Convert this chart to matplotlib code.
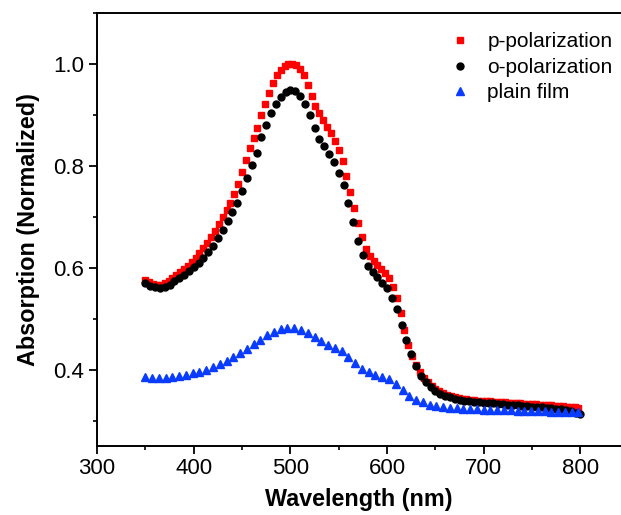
import numpy as np
import matplotlib
matplotlib.use("Agg")
import matplotlib.pyplot as plt
from matplotlib.ticker import MultipleLocator

plt.rcParams['font.family'] = ['Liberation Sans', 'DejaVu Sans']

# p-polarization (4 nm step)
wl_p = np.arange(350, 801, 4)
p_pol = [0.575, 0.571, 0.568, 0.566, 0.567, 0.570, 0.574, 0.579, 0.585, 0.592,
         0.598, 0.604, 0.611, 0.619, 0.628, 0.638, 0.649, 0.661, 0.673, 0.686,
         0.699, 0.713, 0.727, 0.745, 0.765, 0.787, 0.812, 0.835, 0.854, 0.875,
         0.900, 0.922, 0.943, 0.963, 0.978, 0.989, 0.996, 1.000, 1.000, 0.997,
         0.990, 0.978, 0.958, 0.937, 0.918, 0.903, 0.889, 0.876, 0.864, 0.849,
         0.832, 0.810, 0.780, 0.748, 0.718, 0.688, 0.660, 0.637, 0.622, 0.613,
         0.605, 0.598, 0.590, 0.579, 0.562, 0.540, 0.512, 0.478, 0.448, 0.426,
         0.409, 0.395, 0.384, 0.375, 0.368, 0.362, 0.358, 0.354, 0.351, 0.348,
         0.346, 0.344, 0.343, 0.342, 0.341, 0.340, 0.339, 0.339, 0.338, 0.338,
         0.337, 0.337, 0.336, 0.336, 0.335, 0.335, 0.334, 0.334, 0.333, 0.333,
         0.332, 0.332, 0.331, 0.331, 0.330, 0.330, 0.329, 0.329, 0.328, 0.327,
         0.327, 0.326, 0.325]

# o-polarization (5 nm step)
wl_o = np.arange(350, 801, 5)
o_pol = [0.570, 0.565, 0.562, 0.561, 0.563, 0.567, 0.573, 0.579, 0.586, 0.594,
         0.602, 0.610, 0.619, 0.630, 0.643, 0.659, 0.675, 0.692, 0.709, 0.727,
         0.751, 0.776, 0.801, 0.826, 0.856, 0.881, 0.903, 0.921, 0.936, 0.944,
         0.948, 0.947, 0.938, 0.921, 0.900, 0.875, 0.853, 0.838, 0.824, 0.808,
         0.786, 0.762, 0.728, 0.690, 0.652, 0.624, 0.604, 0.591, 0.581, 0.570,
         0.560, 0.540, 0.518, 0.488, 0.458, 0.430, 0.407, 0.388, 0.375, 0.366,
         0.358, 0.353, 0.349, 0.346, 0.343, 0.341, 0.339, 0.338, 0.337, 0.336,
         0.335, 0.334, 0.334, 0.333, 0.332, 0.331, 0.331, 0.330, 0.329, 0.328,
         0.327, 0.327, 0.326, 0.325, 0.324, 0.323, 0.322, 0.320, 0.318, 0.315,
         0.312]

# plain film (7 nm step)
wl_f = np.arange(350, 801, 7)
plain = [0.385, 0.384, 0.384, 0.384, 0.386, 0.388, 0.390, 0.393, 0.396, 0.400,
         0.405, 0.410, 0.416, 0.424, 0.432, 0.441, 0.450, 0.459, 0.467, 0.474,
         0.479, 0.482, 0.482, 0.477, 0.471, 0.463, 0.456, 0.449, 0.443, 0.436,
         0.424, 0.412, 0.402, 0.395, 0.390, 0.386, 0.382, 0.371, 0.359, 0.349,
         0.341, 0.336, 0.331, 0.328, 0.326, 0.325, 0.324, 0.323, 0.322, 0.322,
         0.321, 0.321, 0.320, 0.320, 0.320, 0.319, 0.319, 0.318, 0.318, 0.318,
         0.317, 0.317, 0.317, 0.316, 0.316]

fig = plt.figure(figsize=(6.21, 5.15), dpi=100)
ax = fig.add_axes([97/621, 1-446/515, 1-97/621, (446-13)/515])

ax.plot(wl_p, p_pol, ls='none', marker='s', ms=4.6, color='#ff0000', mec='#ff0000', label='p-polarization')
ax.plot(wl_o, o_pol, ls='none', marker='o', ms=5.0, color='black', label='o-polarization')
ax.plot(wl_f, plain, ls='none', marker='^', ms=5.3, color='#0a3cff', label='plain film')

ax.set_xlim(300, 842)
ax.set_ylim(0.25, 1.1)
ax.xaxis.set_major_locator(MultipleLocator(100))
ax.xaxis.set_minor_locator(MultipleLocator(50))
ax.yaxis.set_major_locator(MultipleLocator(0.2))
ax.yaxis.set_minor_locator(MultipleLocator(0.1))
ax.yaxis.set_major_formatter(matplotlib.ticker.FormatStrFormatter('%.1f'))

for s in ['left', 'bottom', 'top']:
    ax.spines[s].set_linewidth(1.4)
ax.spines['right'].set_visible(False)
ax.tick_params(which='major', direction='out', length=6, width=1.3, labelsize=16, top=False, right=False, pad=3)
ax.tick_params(which='minor', direction='out', length=3, width=1.2, top=False, right=False)

ax.set_xlabel('Wavelength (nm)', fontsize=16.8, fontweight='bold', labelpad=6)
ax.set_ylabel('Absorption (Normalized)', fontsize=16.8, fontweight='bold', labelpad=10)

ax.legend(loc='upper right', frameon=False, fontsize=15, handletextpad=0.5, handlelength=1.6,
          borderaxespad=0.0, labelspacing=0.32, bbox_to_anchor=(1.0, 0.975))

fig.savefig('out.png', dpi=100)
